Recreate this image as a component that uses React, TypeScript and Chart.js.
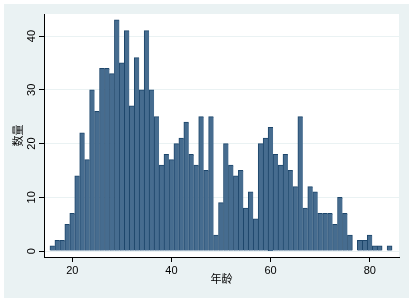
import React, { useEffect, useRef } from "react";
import { Chart, registerables } from "chart.js";

Chart.register(...registerables);

const ages: number[] = Array.from({ length: 69 }, (_, i) => 16 + i);
const counts: number[] = [
  1, 2, 2, 5, 7, 14, 22, 17, 30, 26, 34, 34, 33, 43, 35, 41, 27, 36, 30, 41, 30, 25, 16, 18,
  17, 20, 21, 24, 18, 16, 25, 15, 25, 3, 9, 20, 16, 14, 15, 8, 11, 6, 20, 21, 23, 18, 16, 18,
  15, 12, 25, 8, 12, 11, 7, 7, 7, 5, 10, 7, 3, 0, 2, 2, 3, 1, 1, 0, 1,
];
const xTicks: number[] = [20, 40, 60, 80];
const yTicks: number[] = [0, 10, 20, 30, 40];
const xTitle = "年龄";
const yTitle = "数量";

const OUTER = "#EAF2F3";
const LATIN = "'Liberation Sans', Arial, sans-serif";
const CJK = "'Noto Sans CJK SC', sans-serif";

const stataPlugin = {
  id: "stataLook",
  beforeDraw(chart: any) {
    const { ctx, chartArea } = chart;
    ctx.save();
    ctx.fillStyle = "#ffffff";
    ctx.fillRect(0, 0, chart.width, chart.height);
    ctx.fillStyle = OUTER;
    ctx.fillRect(4, 4, 405, 294);
    ctx.fillStyle = "#ffffff";
    ctx.fillRect(chartArea.left, chartArea.top, chartArea.right - chartArea.left, chartArea.bottom - chartArea.top);
    ctx.restore();
  },
  afterDraw(chart: any) {
    const { ctx, chartArea } = chart;
    const xs = chart.scales.x;
    const ys = chart.scales.y;
    ctx.save();
    ctx.fillStyle = "#000000";
    ctx.font = `11px ${LATIN}`;
    ctx.textAlign = "center";
    ctx.textBaseline = "middle";
    xTicks.forEach((v) => {
      ctx.fillText(String(v), xs.getPixelForValue(v), 270.5);
    });
    yTicks.forEach((v) => {
      ctx.save();
      ctx.translate(32, ys.getPixelForValue(v));
      ctx.rotate(-Math.PI / 2);
      ctx.fillText(String(v), 0, 0);
      ctx.restore();
    });
    ctx.font = `11px ${CJK}`;
    ctx.fillText(xTitle, (chartArea.left + chartArea.right) / 2, 278.5);
    ctx.save();
    ctx.translate(17.5, (chartArea.top + chartArea.bottom) / 2);
    ctx.rotate(-Math.PI / 2);
    ctx.fillText(yTitle, 0, 0);
    ctx.restore();
    ctx.restore();
  },
};

export default function App() {
  const ref = useRef<HTMLCanvasElement | null>(null);
  useEffect(() => {
    if (!ref.current) return;
    const chart = new Chart(ref.current, {
      type: "bar",
      data: {
        datasets: [
          {
            data: ages.map((a, i) => ({ x: a, y: counts[i] })),
            backgroundColor: "#466C8F",
            borderColor: "#1D466B",
            borderWidth: (c: any) => {
              const i = c.dataIndex;
              const next = i + 1 < counts.length ? counts[i + 1] : 0;
              return { top: 1, left: 1, right: next === 0 ? 1 : 0, bottom: 0 };
            },
            borderSkipped: false,
            barPercentage: 1,
            categoryPercentage: 1,
          } as any,
        ],
      },
      options: {
        animation: false,
        responsive: false,
        maintainAspectRatio: false,
        layout: { padding: { top: 14, right: 14, left: 0, bottom: 0 } },
        plugins: { legend: { display: false }, tooltip: { enabled: false } },
        scales: {
          x: {
            type: "linear",
            offset: false,
            min: 14.3,
            max: 85.9,
            afterBuildTicks: (s: any) => {
              s.ticks = xTicks.map((v) => ({ value: v }));
            },
            afterFit: (s: any) => {
              s.height = 45;
            },
            ticks: { display: false },
            grid: { offset: false, drawOnChartArea: false, drawTicks: true, tickLength: 5, tickColor: "#000000" },
            border: { display: true, color: "#000000", width: 1 },
          },
          y: {
            type: "linear",
            min: -1.1,
            max: 44.1,
            afterBuildTicks: (s: any) => {
              s.ticks = yTicks.map((v) => ({ value: v }));
            },
            afterFit: (s: any) => {
              s.width = 44;
            },
            ticks: { display: false },
            grid: { offset: false, color: OUTER, drawTicks: true, tickLength: 5, tickColor: "#000000", lineWidth: 1 },
            border: { display: true, color: "#000000", width: 1 },
          },
        },
      },
      plugins: [stataPlugin],
    } as any);
    return () => chart.destroy();
  }, []);
  return (
    <div style={{ position: "absolute", left: 0, top: 0, width: 413, height: 302 }}>
      <canvas ref={ref} width={413} height={302} style={{ display: "block", width: 413, height: 302 }} />
    </div>
  );
}
